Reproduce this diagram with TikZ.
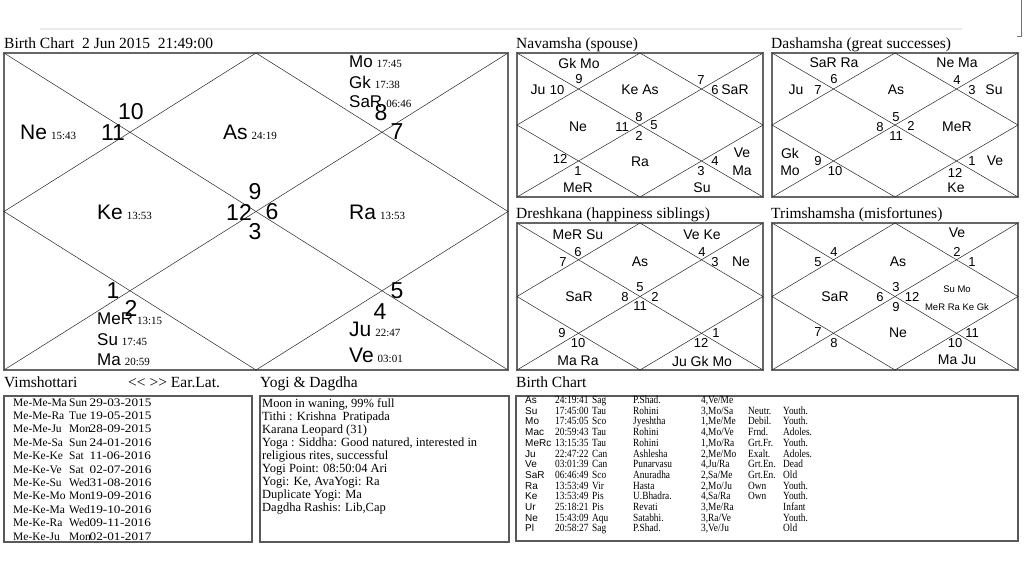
\documentclass[tikz,border=0pt]{standalone}
\usepackage{fontspec}
\setmainfont{Liberation Serif}
\setsansfont{Liberation Sans}
\newfontfamily\tabfont{Liberation Serif}[FakeStretch=0.85]
\newfontfamily\datefont{Liberation Serif}[FakeStretch=1.15]
\newcommand{\degtxt}[1]{{\rmfamily\fontsize{11}{11}\selectfont #1}}

\begin{document}
\begin{tikzpicture}[x=1pt, y=-1pt,
frame/.style={draw=black!60, line width=2pt},
grid/.style={draw=black!85, line width=0.5pt},
panel/.style={draw=black!65, line width=1.2pt},
ttl/.style={anchor=base west, inner sep=0pt, font=\fontsize{15.5}{16}\selectfont},
hnum/.style={inner sep=0pt, font=\sffamily\fontsize{23}{23}\selectfont},
pbig/.style={anchor=west, inner sep=0pt, font=\sffamily\fontsize{21}{21}\selectfont},
psmall/.style={pbig, font=\sffamily\fontsize{17}{17}\selectfont},
dpl/.style={inner sep=0pt, font=\sffamily\fontsize{14}{14}\selectfont},
dnum/.style={inner sep=0pt, font=\sffamily\fontsize{13}{13}\selectfont},
dsm/.style={inner sep=0pt, font=\sffamily\fontsize{9.5}{10}\selectfont},
row/.style={anchor=base west, inner sep=0pt, font=\fontsize{12.5}{12.5}\selectfont},
vrow/.style={row, font=\fontsize{11.5}{12}\selectfont},
drow/.style={row, font=\datefont\fontsize{11.5}{12}\selectfont},
trow/.style={anchor=base west, inner sep=0pt, font=\tabfont\fontsize{11}{11}\selectfont},
tpl/.style={trow, font=\sffamily\fontsize{10}{10}\selectfont}
]
\useasboundingbox (0,0) rectangle (1024,576);
\fill[white] (0,0) rectangle (1024,576);

% faint strip at the top
\draw[black!8, line width=1.5pt] (40,29) -- (962,29);
\draw[black!55, line width=0.8pt] (1021,0) -- (1021,36) -- (1017,36);

% chart frames with their diamonds
\foreach \x/\y/\w/\h in {4/53/504/317, 517/53/246/144, 772/53/246/144, 517/223/246/147, 772/223/246/147} {
  \draw[frame] (\x,\y) rectangle ++(\w,\h);
  \draw[grid] (\x,\y) -- ++(\w,\h);
  \draw[grid] ({\x+\w},\y) -- ++(-\w,\h);
  \draw[grid] ({\x+\w/2},\y) -- ({\x+\w},{\y+\h/2}) -- ({\x+\w/2},{\y+\h}) -- (\x,{\y+\h/2}) -- cycle;
}

% titles
\node[ttl] (tmain) at (4,48) {Birth Chart\ \ 2 Jun 2015\ \ 21:49:00};
\node[ttl] (tnav) at (516,48) {Navamsha (spouse)};
\node[ttl] (tdas) at (771,48) {Dashamsha (great successes)};
\node[ttl] (tdre) at (516,218) {Dreshkana (happiness siblings)};
\node[ttl] (ttri) at (771,218) {Trimshamsha (misfortunes)};
\node[ttl] (tvim) at (4,387) {Vimshottari};
\node[ttl] (tlat) at (128,387) {{<}{<} {>}{>} Ear.Lat.};
\node[ttl] (tyog) at (260,387) {Yogi \& Dagdha};
\node[ttl] (ttab) at (516,387) {Birth Chart};

% main chart: planets
\node[psmall] (mo) at (349,62) {Mo\hspace{4pt}\degtxt{17:45}};
\node[psmall] (gk) at (349,82) {Gk\hspace{4pt}\degtxt{17:38}};
\node[psmall] (sa) at (349,102) {SaR\hspace{4pt}\degtxt{06:46}};
\node[pbig] (ne) at (20,132) {Ne\hspace{4pt}\degtxt{15:43}};
\node[pbig] (as) at (223,132) {As\hspace{4pt}\degtxt{24:19}};
\node[pbig] (ke) at (97,212) {Ke\hspace{4pt}\degtxt{13:53}};
\node[pbig] (ra) at (349,212) {Ra\hspace{4pt}\degtxt{13:53}};
\node[psmall] (me) at (97,319) {MeR\hspace{4pt}\degtxt{13:15}};
\node[psmall] (su) at (97,340) {Su\hspace{4pt}\degtxt{17:45}};
\node[psmall] (ma) at (97,360) {Ma\hspace{4pt}\degtxt{20:59}};
\node[pbig] (ju) at (349,329) {Ju\hspace{4pt}\degtxt{22:47}};
\node[pbig] (ve) at (349,355) {Ve\hspace{4pt}\degtxt{03:01}};

% main chart: sign numbers
\foreach \px/\py/\t in {131/112/10, 113/133/11, 381/113/8, 397/132/7, 255/192/9, 239/212/12,
  272/212/6, 255/232/3, 113/291/1, 131/308/2, 397/291/5, 380/312/4}
  \node[hnum] (h\t) at (\px,\py) {\t};

% Navamsha
\begin{scope}[shift={(517,53)}]
\foreach \px/\py/\t [count=\i] in {62/10/Gk Mo, 21/37/Ju, 123/37/Ke As, 218/37/SaR, 61/74/Ne,
  123/109/Ra, 225/100/Ve, 225/118/Ma, 61/135/MeR, 185/135/Su}
  \node[dpl] (nvp\i) at (\px,\py) {\t};
\foreach \px/\py/\t in {62/26/9, 40/37/10, 184/27/7, 198/37/6, 105/74/11, 122/64/8,
  137/72/5, 122/83/2, 43/106/12, 61/118/1, 184/118/3, 198/108/4}
  \node[dnum] (nvh\t) at (\px,\py) {\t};
\end{scope}

% Dashamsha
\begin{scope}[shift={(772,53)}]
\foreach \px/\py/\t [count=\i] in {62/10/SaR Ra, 24/37/Ju, 124/37/As, 185/10/Ne Ma, 222/37/Su,
  185/74/MeR, 18/100/Gk, 18/118/Mo, 223/108/Ve, 184/135/Ke}
  \node[dpl] (dap\i) at (\px,\py) {\t};
\foreach \px/\py/\t in {62/26/6, 46/37/7, 185/27/4, 200/37/3, 108/74/8, 124/64/5,
  139/73/2, 124/83/11, 46/108/9, 63/118/10, 200/108/1, 183/120/12}
  \node[dnum] (dah\t) at (\px,\py) {\t};
\end{scope}

% Dreshkana
\begin{scope}[shift={(517,223)}]
\foreach \px/\py/\t [count=\i] in {61/12/MeR Su, 123/39/As, 185/12/Ve Ke, 224/39/Ne, 62/74/SaR,
  61/138/Ma Ra, 185/138/Ju Gk Mo}
  \node[dpl] (drp\i) at (\px,\py) {\t};
\foreach \px/\py/\t in {61/29/6, 46/39/7, 185/29/4, 198/39/3, 108/74/8, 123/64/5,
  138/74/2, 123/83/11, 45/110/9, 61/120/10, 184/120/12, 199/110/1}
  \node[dnum] (drh\t) at (\px,\py) {\t};
\end{scope}

% Trimshamsha
\begin{scope}[shift={(772,223)}]
\foreach \px/\py/\t [count=\i] in {185/10/Ve, 126/39/As, 63/74/SaR, 126/110/Ne, 185/137/Ma Ju}
  \node[dpl] (trp\i) at (\px,\py) {\t};
\node[dsm] (trs1) at (185,66) {Su Mo};
\node[dsm] (trs2) at (185,84) {MeR Ra Ke Gk};
\foreach \px/\py/\t in {185/29/2, 200/39/1, 62/29/4, 46/39/5, 108/74/6, 124/64/3,
  140/74/12, 124/84/9, 46/109/7, 62/120/8, 200/110/11, 183/120/10}
  \node[dnum] (trh\t) at (\px,\py) {\t};
\end{scope}

% lower panels
\draw[panel] (4,396) rectangle (252,542);
\draw[panel] (260,396) rectangle (509,542);
\draw[panel] (516,396) rectangle (1018,541);

% Vimshottari periods
\foreach \nm/\dy/\dt [count=\i] in {Me-Me-Ma/Sun/29-03-2015, Me-Me-Ra/Tue/19-05-2015, Me-Me-Ju/Mon/28-09-2015,
  Me-Me-Sa/Sun/24-01-2016, Me-Ke-Ke/Sat/11-06-2016, Me-Ke-Ve/Sat/02-07-2016, Me-Ke-Su/Wed/31-08-2016,
  Me-Ke-Mo/Mon/19-09-2016, Me-Ke-Ma/Wed/19-10-2016, Me-Ke-Ra/Wed/09-11-2016, Me-Ke-Ju/Mon/02-01-2017} {
  \node[vrow] (vn\i) at (13,{406+13.4*(\i-1)}) {\nm};
  \node[vrow] (vw\i) at (69,{406+13.4*(\i-1)}) {\dy};
  \node[drow] (vd\i) at (89.5,{406+13.4*(\i-1)}) {\dt};
}

% Yogi and Dagdha
\foreach \ln [count=\i] in {{Moon in waning, 99\% full}, {Tithi : Krishna\ \ Pratipada}, {Karana Leopard (31)},
  {Yoga : Siddha: Good natured, interested in}, {religious rites, successful}, {Yogi Point: 08:50:04 Ari},
  {Yogi: Ke, AvaYogi: Ra}, {Duplicate Yogi: Ma}, {Dagdha Rashis: Lib,Cap}}
  \node[row] (yg\i) at (262,{407+13.1*(\i-1)}) {\ln};

% planet table
\foreach \pl/\lon/\sg/\nak/\pd/\dig/\age [count=\i] in {
  As/24:19:41/Sag/P.Shad./{4,Ve/Me}/{}/{},
  Su/17:45:00/Tau/Rohini/{3,Mo/Sa}/Neutr./Youth.,
  Mo/17:45:05/Sco/Jyeshtha/{1,Me/Me}/Debil./Youth.,
  Mac/20:59:43/Tau/Rohini/{4,Mo/Ve}/Frnd./Adoles.,
  MeRc/13:15:35/Tau/Rohini/{1,Mo/Ra}/Grt.Fr./Youth.,
  Ju/22:47:22/Can/Ashlesha/{2,Me/Mo}/Exalt./Adoles.,
  Ve/03:01:39/Can/Punarvasu/{4,Ju/Ra}/Grt.En./Dead,
  SaR/06:46:49/Sco/Anuradha/{2,Sa/Me}/Grt.En./Old,
  Ra/13:53:49/Vir/Hasta/{2,Mo/Ju}/Own/Youth.,
  Ke/13:53:49/Pis/U.Bhadra./{4,Sa/Ra}/Own/Youth.,
  Ur/25:18:21/Pis/Revati/{3,Me/Ra}/{}/Infant,
  Ne/15:43:09/Aqu/Satabhi./{3,Ra/Ve}/{}/Youth.,
  Pl/20:58:27/Sag/P.Shad./{3,Ve/Ju}/{}/Old} {
  \node[tpl] (tp\i) at (525,{403.5+10.7*(\i-1)}) {\pl};
  \node[trow] (tl\i) at (555,{403.5+10.7*(\i-1)}) {\lon};
  \node[trow] (ts\i) at (592,{403.5+10.7*(\i-1)}) {\sg};
  \node[trow] (tn\i) at (633,{403.5+10.7*(\i-1)}) {\nak};
  \node[trow] (tq\i) at (701,{403.5+10.7*(\i-1)}) {\pd};
  \node[trow] (tg\i) at (748,{403.5+10.7*(\i-1)}) {\dig};
  \node[trow] (ta\i) at (783,{403.5+10.7*(\i-1)}) {\age};
}
\end{tikzpicture}
\end{document}
